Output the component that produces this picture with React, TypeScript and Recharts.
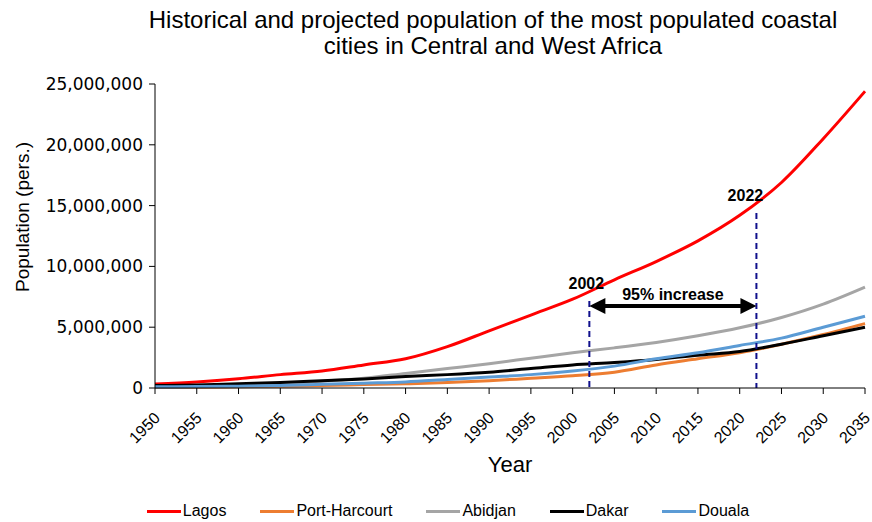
import React from 'react';
import { LineChart, Line, XAxis, YAxis, ReferenceLine } from 'recharts';

// ---- data (values in millions of people) ----
const years = [1950, 1955, 1960, 1965, 1970, 1975, 1980, 1985, 1990, 1995, 2000, 2005, 2010, 2015, 2020, 2025, 2030, 2035];
const lagos = [0.33, 0.5, 0.76, 1.1, 1.4, 1.9, 2.4, 3.4, 4.7, 6.0, 7.3, 8.9, 10.4, 12.1, 14.2, 16.9, 20.5, 24.4];
const portHarcourt = [0.05, 0.07, 0.1, 0.15, 0.2, 0.28, 0.35, 0.45, 0.6, 0.8, 1.0, 1.3, 1.9, 2.4, 2.9, 3.6, 4.4, 5.3];
const abidjan = [0.06, 0.1, 0.18, 0.3, 0.55, 0.8, 1.2, 1.6, 2.0, 2.45, 2.9, 3.3, 3.75, 4.3, 4.95, 5.8, 6.9, 8.3];
const dakar = [0.2, 0.25, 0.35, 0.45, 0.6, 0.75, 0.95, 1.1, 1.3, 1.6, 1.9, 2.1, 2.35, 2.7, 3.0, 3.6, 4.3, 5.0];
const douala = [0.1, 0.12, 0.15, 0.2, 0.3, 0.4, 0.5, 0.7, 0.9, 1.1, 1.4, 1.8, 2.4, 2.9, 3.5, 4.1, 5.0, 5.9];

const seriesNames = ['Lagos', 'Port-Harcourt', 'Abidjan', 'Dakar', 'Douala'];
const seriesValues = [lagos, portHarcourt, abidjan, dakar, douala];
const seriesColors = ['#FF0000', '#ED7D31', '#A5A5A5', '#000000', '#5B9BD5'];

const xTicks = [1950, 1955, 1960, 1965, 1970, 1975, 1980, 1985, 1990, 1995, 2000, 2005, 2010, 2015, 2020, 2025, 2030, 2035];
const yTicks = [0, 5000000, 10000000, 15000000, 20000000, 25000000];

// annotation
const markYears = [2002, 2022];
const markTops = [7150000, 14400000];
const arrowLevel = 6750000;
const arrowText = '95% increase';

const titleLines = [
  'Historical and projected population of the most populated coastal',
  'cities in Central and West Africa',
];

const FONT = "'Liberation Sans', Arial, sans-serif";
const WIDE = "'DejaVu Sans', Verdana, sans-serif";
const NARROW = "'Liberation Sans Narrow', 'Liberation Sans', Arial, sans-serif";
const DASH_COLOR = '#10108C';

const chartData = years.map((year, i) => {
  const row: Record<string, number> = { year };
  seriesNames.forEach((name, s) => {
    row[name] = seriesValues[s][i] * 1000000;
  });
  return row;
});

const XTick = (props: any) => {
  const { x, y, payload } = props;
  const ax = x + 6;
  const ay = y + 23;
  return (
    <text x={ax} y={ay} transform={`rotate(-45 ${ax} ${ay})`} textAnchor="end"
      fontSize={16} fontFamily={FONT} fill="#000">
      {payload.value}
    </text>
  );
};

// dashed year marker with its label above
const markerShape = (label: string, dx: number) => (props: any) => {
  const { x1, y1, x2, y2 } = props;
  const top = Math.min(y1, y2);
  const bottom = Math.max(y1, y2);
  return (
    <g>
      <line x1={x1} x2={x2} y1={top} y2={bottom} stroke={DASH_COLOR} strokeWidth={2} strokeDasharray="6 4" />
      <text x={x1 + dx} y={top - 12} textAnchor="middle" fontSize={16} fontWeight="bold"
        fontFamily={NARROW} fill="#000">
        {label}
      </text>
    </g>
  );
};

const arrowShape = (props: any) => {
  const { x1, y1, x2 } = props;
  const left = Math.min(x1, x2);
  const right = Math.max(x1, x2);
  const y = y1;
  const hl = 16;
  const hh = 8;
  return (
    <g>
      <line x1={left + hl - 2} x2={right - hl + 2} y1={y} y2={y} stroke="#000" strokeWidth={4} />
      <polygon points={`${left},${y} ${left + hl},${y - hh} ${left + hl},${y + hh}`} fill="#000" />
      <polygon points={`${right},${y} ${right - hl},${y - hh} ${right - hl},${y + hh}`} fill="#000" />
      <text x={(left + right) / 2} y={y - 6} textAnchor="middle" fontSize={16} fontWeight="bold"
        fontFamily={FONT} fill="#000">
        {arrowText}
      </text>
    </g>
  );
};

export default function App() {
  return (
    <div style={{ position: 'absolute', left: 0, top: 0, width: 872, height: 522, background: '#fff', fontFamily: FONT }}>
      {/* title */}
      <div style={{ position: 'absolute', left: 93, width: 800, top: 7, textAlign: 'center', fontSize: 24, lineHeight: '26px', color: '#000' }}>
        {titleLines.map((t) => <div key={t}>{t}</div>)}
      </div>

      <LineChart width={872} height={522} data={chartData}
        margin={{ top: 84, right: 7, bottom: 54, left: 55 }}>
        <XAxis dataKey="year" type="number" domain={[1950, 2035]} ticks={xTicks}
          interval={0} tick={<XTick />} tickSize={6} axisLine={{ stroke: '#000' }} tickLine={{ stroke: '#000' }}
          height={80}
          label={{ value: 'Year', position: 'insideBottom', offset: -4, fontSize: 22, fill: '#000', fontFamily: FONT }} />
        <YAxis type="number" domain={[0, 25000000]} ticks={yTicks} width={100} interval={0}
          tickFormatter={(v: number) => v.toLocaleString('en-US')}
          tick={{ fontSize: 17, fill: '#000', fontFamily: WIDE, dx: -4 }} tickSize={6}
          axisLine={{ stroke: '#000' }} tickLine={{ stroke: '#000' }} />

        {seriesNames.map((name, i) => (
          <Line key={name} type="monotone" dataKey={name} stroke={seriesColors[i]} strokeWidth={3}
            dot={false} isAnimationActive={false} />
        ))}

        {markYears.map((yr, i) => (
          <ReferenceLine key={yr}
            segment={[{ x: yr, y: 0 }, { x: yr, y: markTops[i] }]}
            shape={markerShape(String(yr), i === 0 ? -3 : -11)} />
        ))}
        <ReferenceLine
          segment={[{ x: markYears[0], y: arrowLevel }, { x: markYears[1], y: arrowLevel }]}
          shape={arrowShape} />
      </LineChart>

      {/* y axis title */}
      <div style={{ position: 'absolute', left: 23, top: 217, width: 0, height: 0 }}>
        <div style={{ position: 'absolute', transform: 'translate(-50%, -50%) rotate(-90deg)', whiteSpace: 'nowrap', fontSize: 19, color: '#000' }}>
          Population (pers.)
        </div>
      </div>

      {/* legend */}
      <div style={{ position: 'absolute', left: 0, width: 896, top: 502, display: 'flex', justifyContent: 'center', gap: 34, fontFamily: NARROW, fontSize: 16, color: '#000' }}>
        {seriesNames.map((name, i) => (
          <div key={name} style={{ display: 'flex', alignItems: 'center' }}>
            <span style={{ display: 'inline-block', width: 34, height: 3, background: seriesColors[i], marginRight: 2 }} />
            <span>{name}</span>
          </div>
        ))}
      </div>
    </div>
  );
}
